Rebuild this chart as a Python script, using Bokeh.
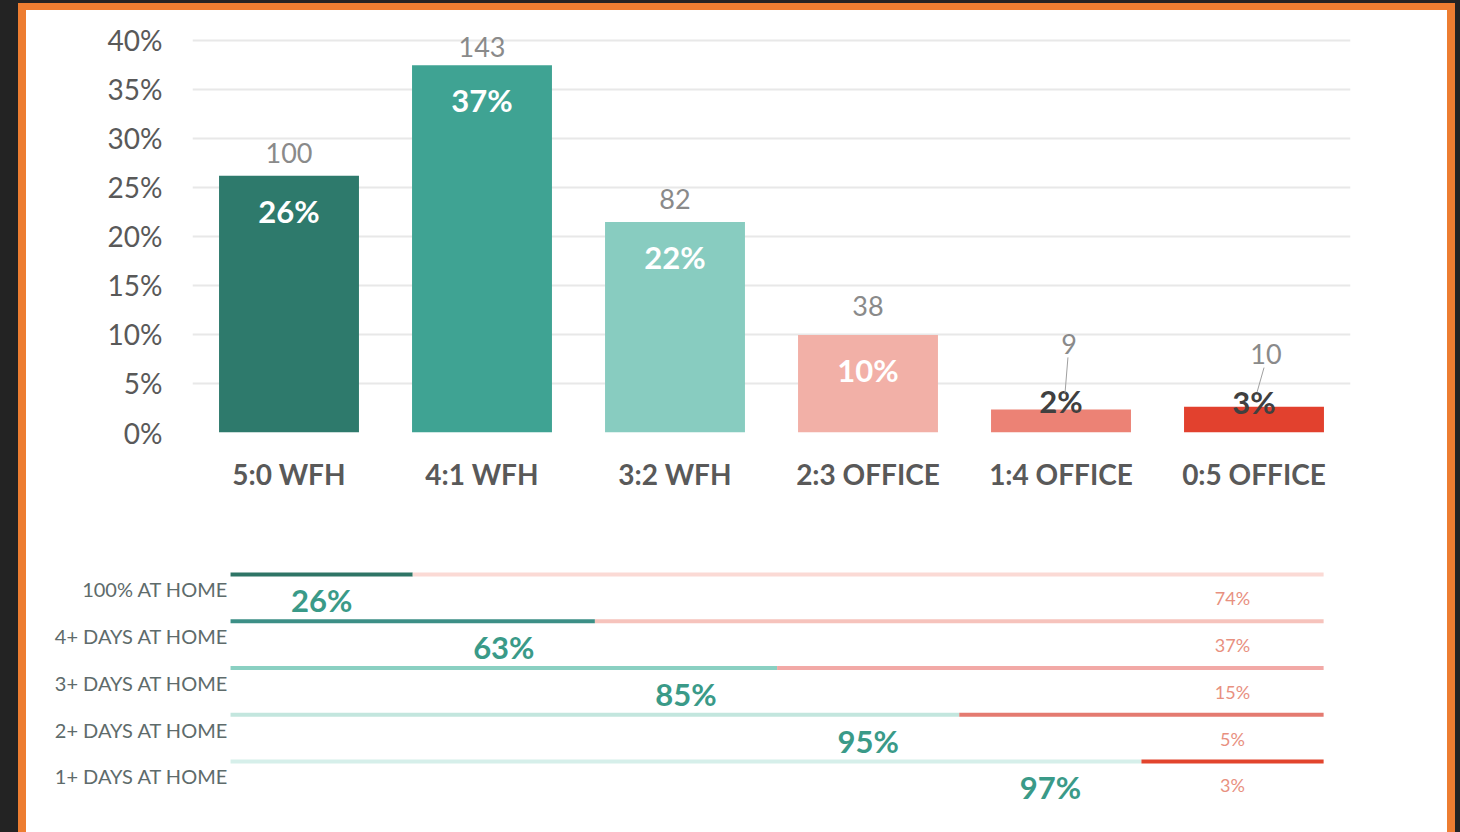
from bokeh.plotting import figure
from bokeh.models import ColumnDataSource, FactorRange, Range1d, FixedTicker, NumeralTickFormatter
from bokeh.layouts import column
from bokeh.core.properties import value
from bokeh.embed import file_html
from bokeh.resources import INLINE

# ---------------- data ----------------
categories = ["5:0 WFH", "4:1 WFH", "3:2 WFH", "2:3 OFFICE", "1:4 OFFICE", "0:5 OFFICE"]
counts = [100, 143, 82, 38, 9, 10]
pct_labels = ["26%", "37%", "22%", "10%", "2%", "3%"]
y_ticks = [0, 0.05, 0.10, 0.15, 0.20, 0.25, 0.30, 0.35, 0.40]

row_labels = ["100% AT HOME", "4+ DAYS AT HOME", "3+ DAYS AT HOME", "2+ DAYS AT HOME", "1+ DAYS AT HOME"]
home_pct = ["26%", "63%", "85%", "95%", "97%"]
office_pct = ["74%", "37%", "15%", "5%", "3%"]
home_cols = [1, 2, 3, 4, 5]   # number of categories counted as "at home" for each row

# ---------------- styles ----------------
FONT = "Lato"
bar_colors = ["#2E7A6C", "#3FA393", "#88CCC0", "#F2B0A7", "#EC8275", "#E2412E"]
left_colors = ["#2E7566", "#3C8F86", "#8AD0C2", "#C3E6DE", "#D6EFEA"]
right_colors = ["#FBDAD5", "#F6C3BC", "#F2A9A6", "#E47A70", "#E2442D"]
GRAY = "#595959"

total = sum(counts)
share = [c / total for c in counts]

src = ColumnDataSource(dict(
    cat=categories,
    share=share,
    count=[str(c) for c in counts],
    pct=pct_labels,
    color=bar_colors,
    count_dy=[-23, -18, -23, -29, -65, -53],
    count_dx=[0, 0, 0, 0, 8, 12],
    pct_dy=[35, 35, 35, 35, -8, -5],
    pct_color=["white", "white", "white", "white", "#404040", "#404040"],
))

# ---------------- top chart ----------------
p1 = figure(width=1421, height=530, x_range=FactorRange(*categories), y_range=Range1d(0, 0.42),
            output_backend="svg", toolbar_location=None,
            min_border_left=166, min_border_right=97, min_border_top=10, min_border_bottom=108)
p1.frame_align = False
p1.background_fill_color = "white"
p1.border_fill_color = "white"
p1.outline_line_color = None
p1.xgrid.grid_line_color = None
p1.ygrid.grid_line_color = "#E8E8E8"
p1.ygrid.grid_line_width = 2

p1.yaxis.ticker = FixedTicker(ticks=y_ticks)
p1.yaxis.formatter = NumeralTickFormatter(format="0%")
for ax in (p1.xaxis, p1.yaxis):
    ax.axis_line_color = None
    ax.major_tick_line_color = None
    ax.minor_tick_line_color = None
    ax.major_tick_out = 0
    ax.major_tick_in = 0
    ax.major_label_text_font = FONT
    ax.major_label_text_color = GRAY
    ax.major_label_text_font_size = "28px"
p1.yaxis.major_label_standoff = 30
p1.xaxis.major_label_standoff = 24
p1.xaxis.major_label_text_font_style = "bold"

p1.vbar(x="cat", top="share", width=0.725, color="color", line_color=None, source=src)

p1.text(x="cat", y="share", text="count", x_offset="count_dx", y_offset="count_dy",
        text_align="center", text_baseline="middle", text_font=value(FONT),
        text_font_size="27px", text_color="#8A8A8A", source=src)
p1.text(x="cat", y="share", text="pct", y_offset="pct_dy",
        text_align="center", text_baseline="middle", text_font=value(FONT),
        text_font_size="31px", text_font_style="bold", text_color="pct_color", source=src)

# leader lines for the small bars
lead = ColumnDataSource(dict(
    x0=[(categories[4], 0.036), (categories[5], 0.052)],
    x1=[(categories[4], 0.021), (categories[5], 0.016)],
    y0=[share[4] + 0.053, share[5] + 0.040],
    y1=[share[4] + 0.017, share[5] + 0.015],
))
p1.segment(x0="x0", y0="y0", x1="x1", y1="y1", line_color="#A0A0A0", line_width=1, source=lead)

# ---------------- bottom chart ----------------
rows = list(range(len(row_labels)))
n = len(categories)
bsrc = ColumnDataSource(dict(
    row=rows,
    split=home_cols,
    end=[n] * len(rows),
    start=[0] * len(rows),
    label=row_labels,
    home=home_pct,
    office=office_pct,
    home_x=[c - 0.5 for c in home_cols],
    office_x=[n - 0.5] * len(rows),
    lc=left_colors,
    rc=right_colors,
))

p2 = figure(width=1421, height=292, x_range=Range1d(-1.12, 6.68), y_range=Range1d(5.52, -0.727),
            output_backend="svg", toolbar_location=None,
            min_border_left=0, min_border_right=0, min_border_top=0, min_border_bottom=0)
p2.frame_align = False
p2.background_fill_color = "white"
p2.border_fill_color = "white"
p2.outline_line_color = None
p2.axis.visible = False
p2.grid.grid_line_color = None

p2.segment(x0="start", y0="row", x1="split", y1="row", line_color="lc", line_width=4, source=bsrc)
p2.segment(x0="split", y0="row", x1="end", y1="row", line_color="rc", line_width=4, source=bsrc)

p2.text(x="start", y="row", text="label", x_offset=-2, y_offset=15,
        text_align="right", text_baseline="middle", text_font=value(FONT),
        text_font_size="20px", text_color="#5E6B6B", source=bsrc)
p2.text(x="home_x", y="row", text="home", y_offset=26,
        text_align="center", text_baseline="middle", text_font=value(FONT),
        text_font_size="31px", text_font_style="bold", text_color="#3A9A88", source=bsrc)
p2.text(x="office_x", y="row", text="office", y_offset=24,
        text_align="center", text_baseline="middle", text_font=value(FONT),
        text_font_size="18px", text_color="#E8907F", source=bsrc)

inner = column(p1, p2, margin=(7, 8, 0, 8), styles={"background-color": "white"})
outer = column(inner, margin=(3, 0, 0, 18), styles={"background-color": "#ED7D31"})

html = file_html(outer, INLINE, title="Work from home preferences")
html = html.replace("<head>", "<head><style>html,body{margin:0;padding:0;background:#232323;}</style>", 1)
open("out.html", "w").write(html)
